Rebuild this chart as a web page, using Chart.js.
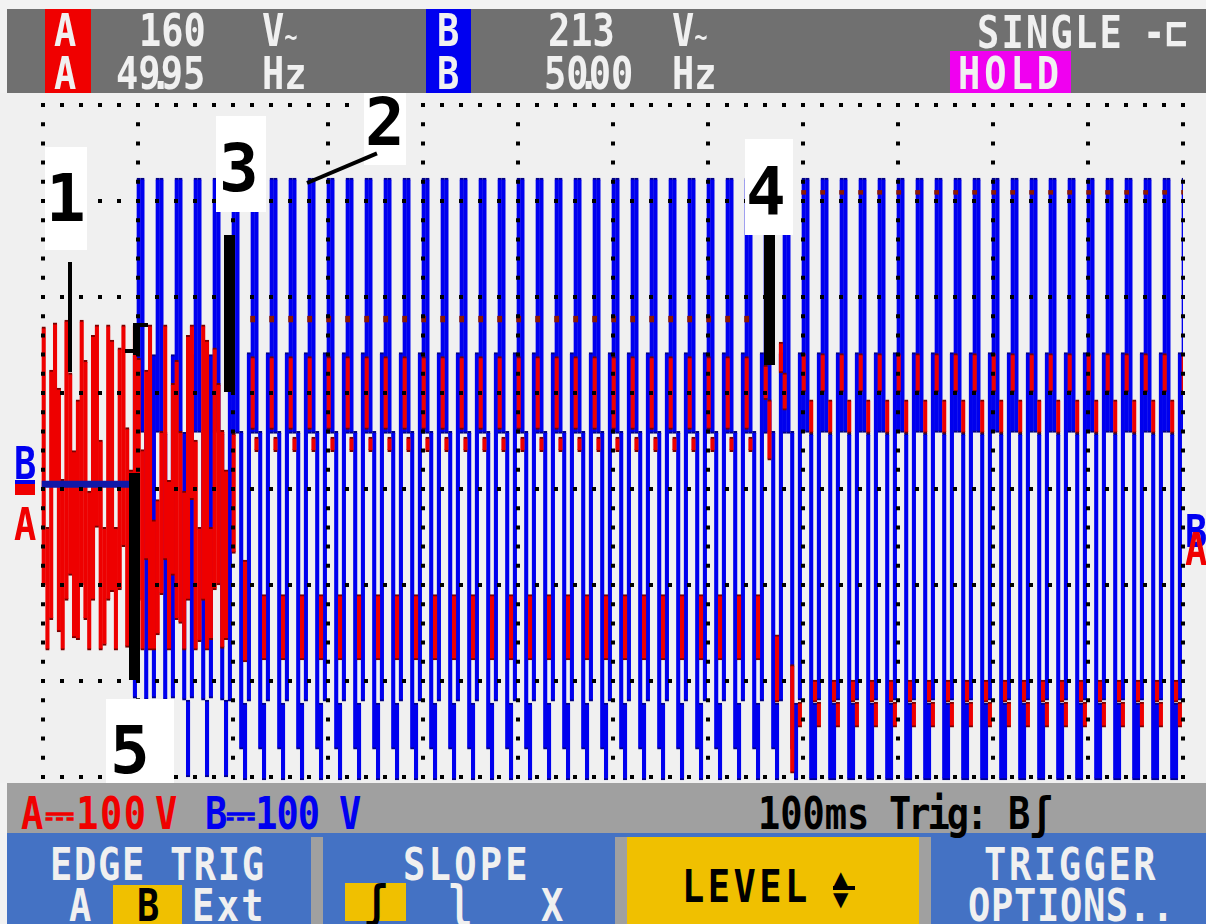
<!DOCTYPE html>
<html>
<head>
<meta charset="utf-8">
<script src="https://cdn.jsdelivr.net/npm/chart.js@4.4.1/dist/chart.umd.min.js"></script>
<style>
  body { margin: 0; width: 1206px; height: 924px; background: #f2f2f2; position: relative; overflow: hidden; }
  .abs { position: absolute; }
  .px { position: absolute; font: bold 37px "DejaVu Sans Mono", monospace; line-height: 37px; white-space: pre;
        transform: scaleY(1.2); transform-origin: 0 0; color: #f0f0f0; z-index: 5; }
  .note { position: absolute; background: #fff; font: bold 66px "DejaVu Sans Mono", monospace; line-height: 68px;
          color: #000; box-sizing: border-box; z-index: 3; }
  .ink { position: absolute; background: #000; z-index: 3; }
  .small { font-size: 22px; }
  .tri { position: absolute; font: 20px "DejaVu Sans", sans-serif; line-height: 20px; color: #000; z-index: 5; }
</style>
</head>
<body>

<!-- plot background and canvas -->
<div class="abs" style="left:0;top:93px;width:1206px;height:690px;background:#f0f0f0"></div>
<canvas id="scope" width="1206" height="690" style="position:absolute;left:0;top:93px;z-index:2"></canvas>

<!-- header -->
<div class="abs" style="left:7px;top:9px;width:1199px;height:84px;background:#707070;z-index:4"></div>
<div class="abs" style="left:45px;top:9px;width:46px;height:84px;background:#f00000;z-index:4"></div>
<div class="abs" style="left:426px;top:9px;width:45px;height:84px;background:#0000f0;z-index:4"></div>
<div class="abs" style="left:950px;top:51px;width:121px;height:42px;background:#f000f0;z-index:4"></div>

<div class="px" style="left:54px;top:9px">A</div>
<div class="px" style="left:54px;top:52px">A</div>
<div class="px" style="left:139px;top:9px">160</div>
<div class="px" style="left:262px;top:9px">V<span class="small">~</span></div>
<div class="px" style="left:116px;top:52px">49<span style="margin:0 -11px">.</span>95</div>
<div class="px" style="left:262px;top:52px">Hz</div>
<div class="px" style="left:437px;top:9px">B</div>
<div class="px" style="left:437px;top:52px">B</div>
<div class="px" style="left:548px;top:9px">213</div>
<div class="px" style="left:672px;top:9px">V<span class="small">~</span></div>
<div class="px" style="left:544px;top:52px">50<span style="margin:0 -11px">.</span>00</div>
<div class="px" style="left:672px;top:52px">Hz</div>
<div class="px" style="left:977px;top:11px;letter-spacing:2.2px">SINGLE</div>
<div class="px" style="left:1143px;top:11px">-⊏</div>
<div class="px" style="left:958px;top:52px;letter-spacing:4px">HOLD</div>

<!-- channel markers -->
<div class="px" style="left:14px;top:442px;color:#0000f0">B</div>
<div class="abs" style="left:15px;top:480px;width:20px;height:4px;background:#0000f0;z-index:5"></div>
<div class="abs" style="left:15px;top:484px;width:20px;height:11px;background:#f00000;z-index:5"></div>
<div class="px" style="left:14px;top:503px;color:#f00000">A</div>
<div class="px" style="left:1185px;top:510px;color:#0000f0">B</div>
<div class="px" style="left:1185px;top:528px;color:#f00000">A</div>

<!-- marked points -->
<div class="note" style="left:45px;top:147px;width:42px;height:103px;padding:18px 0 0 1px">1</div>
<div class="note" style="left:364px;top:70px;width:42px;height:95px;padding:19px 0 0 1px">2</div>
<div class="note" style="left:216px;top:116px;width:50px;height:96px;padding:19px 0 0 3px">3</div>
<div class="note" style="left:745px;top:139px;width:48px;height:96px;padding:19px 0 0 1px">4</div>
<div class="note" style="left:106px;top:699px;width:68px;height:84px;padding:18px 0 0 4px">5</div>
<div class="ink" style="left:68px;top:262px;width:4px;height:110px"></div>
<div class="ink" style="left:307px;top:181px;width:76px;height:4px;transform-origin:0 50%;transform:rotate(-23deg)"></div>
<div class="ink" style="left:224px;top:235px;width:11px;height:157px"></div>
<div class="ink" style="left:764px;top:235px;width:11px;height:130px"></div>
<div class="ink" style="left:129px;top:473px;width:11px;height:207px"></div>
<div class="ink" style="left:133px;top:323px;width:7px;height:32px"></div>
<div class="ink" style="left:133px;top:323px;width:15px;height:4px"></div>
<div class="ink" style="left:125px;top:349px;width:12px;height:4px"></div>

<!-- status line -->
<div class="abs" style="left:7px;top:783px;width:1199px;height:50px;background:#a0a0a0;z-index:4"></div>
<div class="px" style="left:21px;top:792px;color:#f00000;letter-spacing:1.5px">A⎓100</div>
<div class="px" style="left:155px;top:792px;color:#f00000">V</div>
<div class="px" style="left:205px;top:792px;color:#0000f0;letter-spacing:-1px">B⎓100</div>
<div class="px" style="left:339px;top:792px;color:#0000f0">V</div>
<div class="px" style="left:758px;top:792px;color:#000">100ms</div>
<div class="px" style="left:889px;top:792px;color:#000;letter-spacing:-3px">Trig:</div>
<div class="px" style="left:1008px;top:792px;color:#000">Bʃ</div>

<!-- soft keys -->
<div class="abs" style="left:7px;top:833px;width:1199px;height:91px;background:#4472c4;z-index:4"></div>
<div class="abs" style="left:311px;top:837px;width:12px;height:87px;background:#a0a0a0;z-index:4"></div>
<div class="abs" style="left:615px;top:837px;width:316px;height:87px;background:#a0a0a0;z-index:4"></div>
<div class="abs" style="left:627px;top:837px;width:292px;height:87px;background:#f0c000;z-index:4"></div>
<div class="abs" style="left:113px;top:885px;width:69px;height:39px;background:#f0c000;z-index:4"></div>
<div class="abs" style="left:345px;top:883px;width:61px;height:38px;background:#f0c000;z-index:4"></div>

<div class="px" style="left:50px;top:843px;letter-spacing:1.7px">EDGE TRIG</div>
<div class="px" style="left:69px;top:884px">A</div>
<div class="px" style="left:137px;top:884px;color:#000">B</div>
<div class="px" style="left:192px;top:884px;letter-spacing:2.4px">Ext</div>
<div class="px" style="left:403px;top:843px;letter-spacing:3.3px">SLOPE</div>
<div class="px" style="left:365px;top:880px;color:#000">ʃ</div>
<div class="px" style="left:449px;top:880px">ʅ</div>
<div class="px" style="left:541px;top:884px">X</div>
<div class="px" style="left:682px;top:865px;color:#000;letter-spacing:3.5px">LEVEL</div>
<div class="tri" style="left:833px;top:868px">▲</div>
<div class="abs" style="left:833px;top:886px;width:22px;height:4px;background:#000;z-index:5"></div>
<div class="tri" style="left:833px;top:889px">▼</div>
<div class="px" style="left:984px;top:843px;letter-spacing:2.6px">TRIGGER</div>
<div class="px" style="left:968px;top:884px;letter-spacing:0.7px">OPTIONS..</div>

<script>
// time base 100 ms/div over 12 divisions, 100 V/div vertically
const timeTicks = [0, 100, 200, 300, 400, 500, 600, 700, 800, 900, 1000, 1100, 1200];
const voltTicks = [-300, -200, -100, 0, 100, 200, 300, 400];

// the scope draws one min/max column every 4 ms, five columns per 50 Hz cycle
const columnMs = 4;
const cycleMs = 20;
const firstCycleMs = 94.7;   // channel B switches on here

// channel B level before it switches on (V)
const bRestLevel = 5;

// channel B: [min, max] in volts for each of the five columns of a cycle
const bCycleStart = [[-218, 140], [59, 324], [59, 324], [-220, 59], [-300, -220]];
const bCycleMid = [[-221, 142], [58, 324], [58, 324], [-271, 60], [-303, -223]];
const bCycleEnd = [[-220, 142], [59, 324], [59, 324], [-303, 58], [-303, -223]];
const bRuns = [[bCycleStart, 5], [bCycleMid, 30], [bCycleEnd, 21]];

// channel A before B switches on, one [min, max] per column (V)
const aLeadInFirstCol = -24;
const aLeadIn = [
  [-100, 169], [-168, -40], [-136, 124], [0, 173], [-149, 105], [-168, 10], [-116, 176],
  [-90, 121], [-155, 40], [-157, 93], [-100, 176], [-136, 134], [-168, 0], [-116, 160],
  [-40, 171], [-168, 51], [-163, -40], [-116, 171], [-107, 155], [-168, -40], [-105, 147],
  [-60, 171], [-165, 64], [-157, 20], [0, 171], [-116, 136], [-168, 41], [-74, 124],
  [-168, 171], [-168, -32], [-152, -11], [-110, 60], [-74, 171], [-168, 9], [-90, 110],
  [-136, 134], [-140, 60], [-168, 0], [-116, 160], [-11, 171], [-168, 51], [-159, -40],
  [-116, 171], [-168, 155], [-157, -40], [-105, 147], [-100, 110], [-166, 61], [-157, 20]
];

// channel A per cycle after the switch, null = nothing in that column
const aFirstCycle = 5;
const aCycleSwitch = [null, [-67, 58], null, null, [-180, -74]];
const aCycleMid = [null, [62, 138], [39, 54], null, [-178, -110]];
const aCycleStepA = [null, [93, 129], [30, 93], null, [-222, -152]];
const aCycleStepB = [[121, 153], [82, 121], null, [-296, -183], null];
const aCycleEnd = [[-248, -222], [101, 141], null, [58, 93], [-222, -199]];
// single sample dots above the red columns
const aDotMid = [174, 180];
const aDotEnd = [307, 311];
const aRuns = [
  [aCycleSwitch, 1, null],
  [aCycleMid, 27, aDotMid],
  [aCycleStepA, 1, null],
  [aCycleStepB, 1, null],
  [aCycleEnd, 21, aDotEnd]
];

const colTime = (cycle, col) => firstCycleMs + cycle * cycleMs + (col + 0.5) * columnMs;

const blueCols = [];
let cycle = 0;
bRuns.forEach(([shape, count]) => {
  for (let n = 0; n < count; n++, cycle++) {
    shape.forEach((span, col) => { if (span) blueCols.push({ x: colTime(cycle, col), y: span }); });
  }
});

const redCols = [];
const redDots = [];
aLeadIn.forEach((span, i) => redCols.push({ x: colTime(0, aLeadInFirstCol + i), y: span }));
cycle = aFirstCycle;
aRuns.forEach(([shape, count, dot]) => {
  for (let n = 0; n < count; n++, cycle++) {
    shape.forEach((span, col) => { if (span) redCols.push({ x: colTime(cycle, col), y: span }); });
    if (dot) redDots.push({ x: colTime(cycle, 1), y: dot });
  }
});

const colStyle = {
  type: 'bar',
  barThickness: 4.2,
  grouped: false,
  borderSkipped: false,
  clip: { left: 3, top: 0, right: 0, bottom: 0 }
};

new Chart(document.getElementById('scope'), {
  type: 'bar',
  data: {
    datasets: [
      {
        type: 'line',
        data: [{ x: colTime(0, aLeadInFirstCol) - 2, y: bRestLevel }, { x: firstCycleMs, y: bRestLevel }],
        borderColor: '#1018a8',
        borderWidth: 7,
        pointRadius: 0,
        clip: { left: 3, top: 0, right: 0, bottom: 0 },
        order: 0
      },
      Object.assign({}, colStyle, {
        data: redDots,
        backgroundColor: '#8a1800',
        borderWidth: 0,
        order: 1
      }),
      Object.assign({}, colStyle, {
        data: redCols,
        backgroundColor: '#ee0000',
        borderColor: '#7a0000',
        borderWidth: { top: 2, bottom: 2, left: 0, right: 0 },
        order: 2
      }),
      Object.assign({}, colStyle, {
        data: blueCols,
        backgroundColor: '#0000ee',
        borderColor: '#000088',
        borderWidth: { top: 2, bottom: 2, left: 0, right: 0 },
        order: 3
      })
    ]
  },
  options: {
    responsive: false,
    animation: false,
    layout: { padding: { left: 43, right: 23, top: 0, bottom: 0 } },
    plugins: { legend: { display: false }, tooltip: { enabled: false } },
    scales: {
      x: {
        type: 'linear',
        min: 0,
        max: 1200,
        offset: false,
        afterBuildTicks: (scale) => { scale.ticks = timeTicks.map(v => ({ value: v })); },
        ticks: { display: false },
        grid: { color: '#000', lineWidth: 4, drawTicks: false, offset: false, z: 1 },
        border: { display: false, dash: [4, 15.2], dashOffset: 9.2 }
      },
      y: {
        type: 'linear',
        min: -306.25,
        max: 412.5,
        afterBuildTicks: (scale) => { scale.ticks = voltTicks.map(v => ({ value: v })); },
        ticks: { display: false },
        grid: { color: '#000', lineWidth: 4, drawTicks: false, z: 1 },
        border: { display: false, dash: [4, 15], dashOffset: 2 }
      }
    }
  }
});
</script>
</body>
</html>
